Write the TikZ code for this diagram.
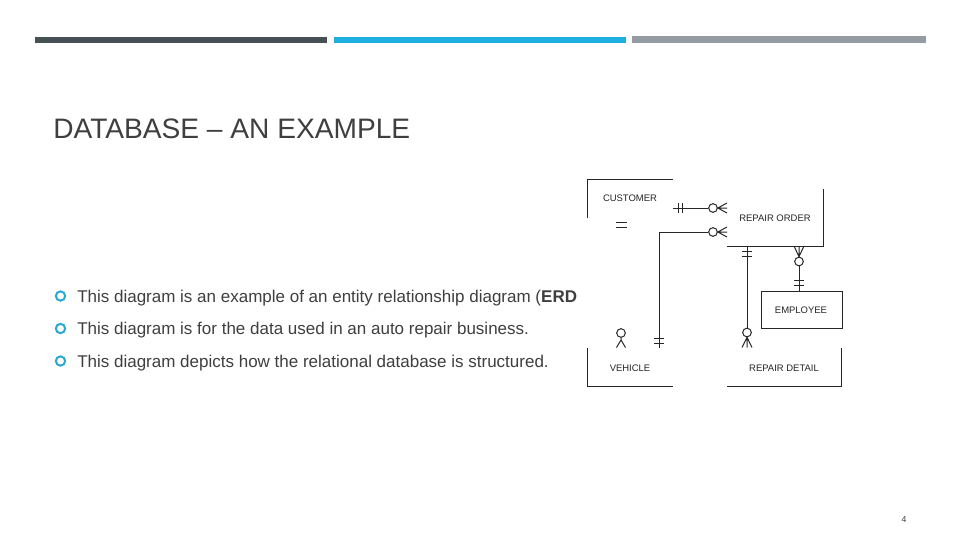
\documentclass[tikz,border=0pt]{standalone}
\usepackage{fontspec}
\setmainfont{Liberation Sans}
\definecolor{bardark}{HTML}{465055}
\definecolor{barblue}{HTML}{1EAEE0}
\definecolor{bargray}{HTML}{959BA2}
\definecolor{txt}{HTML}{3F3F3F}
\definecolor{bul}{HTML}{2AA7D6}
\begin{document}
\begin{tikzpicture}[x=0.75pt,y=-0.75pt,
  bullettext/.style={anchor=base west, inner sep=0pt, text=txt, font=\fontsize{12.75}{14}\selectfont},
  bulletring/.style={draw=bul, line width=1.5pt, circle, minimum size=7pt, inner sep=0pt},
  ent/.style={inner sep=0pt, font=\fontsize{7.1}{8}\selectfont, text=black!85},
  erd/.style={line width=0.75pt, black!85},
  ring/.style={draw, circle, line width=0.75pt, black!85, minimum size=6.5pt, inner sep=0pt}
]
\useasboundingbox (0,0) rectangle (960,540);
\fill[white] (0,0) rectangle (960,540);
% top bars
\fill[bardark] (35,37) rectangle (327,43);
\fill[barblue] (334,37) rectangle (626,43);
\fill[bargray] (632,36) rectangle (926,43);
% title
\node[anchor=base west, inner sep=0pt, text=txt, font=\fontsize{21.1}{24}\selectfont] (title) at (53,138) {DATABASE -- AN EXAMPLE};
% bullets
\node[bulletring] (b1) at (60.5,296) {};
\node[bulletring] (b2) at (60.5,328.5) {};
\node[bulletring] (b3) at (60.5,361) {};
\node[bullettext] (t1) at (77,302) {This diagram is an example of an entity relationship diagram (\textbf{ERD}};
\node[bullettext] (t2) at (77,334) {This diagram is for the data used in an auto repair business.};
\node[bullettext] (t3) at (77,367) {This diagram depicts how the relational database is structured.};
% entities
\node[ent] (customer) at (630,198) {CUSTOMER};
\node[ent] (repairorder) at (775,218) {REPAIR ORDER};
\node[ent] (employee) at (801,310) {EMPLOYEE};
\node[ent] (vehicle) at (630,368) {VEHICLE};
\node[ent] (repairdetail) at (784,368) {REPAIR DETAIL};
% entity outlines
\draw[erd] (587,218) -- (587,179) -- (673,179);
\draw[erd] (615.5,222) -- (626.5,222) (615.5,227.5) -- (626.5,227.5);
\draw[erd] (727,246) -- (823,246) -- (823,189);
\draw[erd] (761,291) rectangle (842,328);
\draw[erd] (587,348) -- (587,386) -- (673,386);
\draw[erd] (727,386) -- (841,386) -- (841,348);
% rel 1: customer - repair order
\coordinate (r1a) at (673,208);
\node[ring] (c1) at (713,208) {};
\draw[erd] (r1a) -- (c1.west);
\draw[erd] (678,203) -- (678,213) (682,203) -- (682,213);
\draw[erd] (c1.east) -- (727,203) (c1.east) -- (727,208) (c1.east) -- (727,213);
% rel 2: vehicle - repair order
\coordinate (r2a) at (659,348);
\node[ring] (c2) at (713,232) {};
\draw[erd] (r2a) |- (c2.west);
\draw[erd] (654,338) -- (664,338) (654,343) -- (664,343);
\draw[erd] (c2.east) -- (727,227) (c2.east) -- (727,232) (c2.east) -- (727,237);
% rel 3: repair order - repair detail
\coordinate (r3a) at (747,246);
\node[ring] (c3) at (747,332.5) {};
\draw[erd] (r3a) -- (c3.north);
\draw[erd] (742,251) -- (752,251) (742,256) -- (752,256);
\draw[erd] (c3.south) -- (742,347.5) (c3.south) -- (747,347.5) (c3.south) -- (752,347.5);
% rel 4: repair order - employee
\node[ring] (c4) at (799,261.5) {};
\draw[erd] (c4.south) -- (799,291);
\draw[erd] (794,246) -- (c4.north) (799,246) -- (c4.north) (804,246) -- (c4.north);
\draw[erd] (794,280) -- (804,280) (794,285) -- (804,285);
% dangling symbol above vehicle
\node[ring] (c5) at (621,333) {};
\draw[erd] (c5.south) -- (621,340) -- (616.5,347.5) (621,340) -- (625.5,347.5);
% page number
\node[inner sep=0pt, text=txt, font=\fontsize{6.5}{8}\selectfont] (pg) at (904,520) {4};
\end{tikzpicture}
\end{document}
